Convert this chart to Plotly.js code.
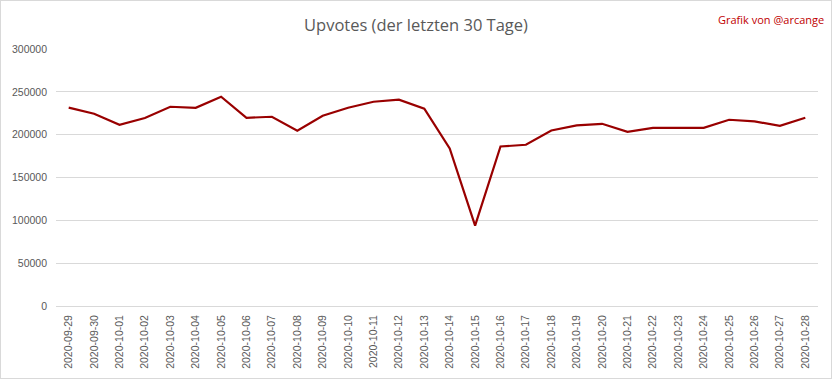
<!DOCTYPE html>
<html>
<head>
<meta charset="utf-8">
<script src="https://cdn.plot.ly/plotly-3.0.1.min.js"></script>
<style>
html,body{margin:0;padding:0;background:#fff;}
#chart{width:830px;height:377px;border:1px solid #d9d9d9;}
</style>
</head>
<body>
<div id="chart"></div>
<script>
const dates = ["2020-09-29","2020-09-30","2020-10-01","2020-10-02","2020-10-03","2020-10-04","2020-10-05","2020-10-06","2020-10-07","2020-10-08","2020-10-09","2020-10-10","2020-10-11","2020-10-12","2020-10-13","2020-10-14","2020-10-15","2020-10-16","2020-10-17","2020-10-18","2020-10-19","2020-10-20","2020-10-21","2020-10-22","2020-10-23","2020-10-24","2020-10-25","2020-10-26","2020-10-27","2020-10-28"];
const upvotes = [231500,224500,211600,219400,232600,231400,244300,219700,220900,204500,222100,231400,238400,240800,230300,183900,93900,186200,188200,204900,210800,212700,203400,208000,208000,208000,217400,215500,210400,219700];
const yTicks = [0,50000,100000,150000,200000,250000,300000];

const trace = {
  x: dates, y: upvotes, type: 'scatter', mode: 'lines',
  line: {color: '#990000', width: 2.2},
  hoverinfo: 'skip'
};
const layout = {
  width: 830, height: 377,
  margin: {l: 55, r: 13, t: 48, b: 72},
  paper_bgcolor: '#fff', plot_bgcolor: '#fff',
  showlegend: false,
  title: {text: 'Upvotes (der letzten 30 Tage)', x: 0.5, xanchor: 'center', y: 0.935, yanchor: 'middle',
          font: {family: 'Open Sans', size: 16.5, color: '#595959'}},
  xaxis: {
    type: 'category', tickangle: -90, showgrid: false, zeroline: false,
    showline: false, ticks: '', ticklabelstandoff: 6,
    tickfont: {family: 'Liberation Sans', size: 10.5, color: '#595959'},
    range: [-0.5, dates.length - 0.5]
  },
  yaxis: {
    range: [0, 300000], tickvals: yTicks, ticktext: yTicks.map(String),
    showgrid: true, gridcolor: '#d9d9d9', gridwidth: 1, zeroline: true, zerolinecolor: '#d9d9d9', zerolinewidth: 1,
    showline: false, ticks: '', ticklabelstandoff: 8,
    tickfont: {family: 'Liberation Sans', size: 10.5, color: '#595959'}
  },
  annotations: [{
    text: 'Grafik von @arcange', xref: 'paper', yref: 'paper', x: 1.01, y: 1.115,
    xanchor: 'right', yanchor: 'middle', showarrow: false,
    font: {family: 'Open Sans', size: 11, color: '#c00000'}
  }]
};
Plotly.newPlot('chart', [trace], layout, {displayModeBar: false, staticPlot: true});
</script>
</body>
</html>
